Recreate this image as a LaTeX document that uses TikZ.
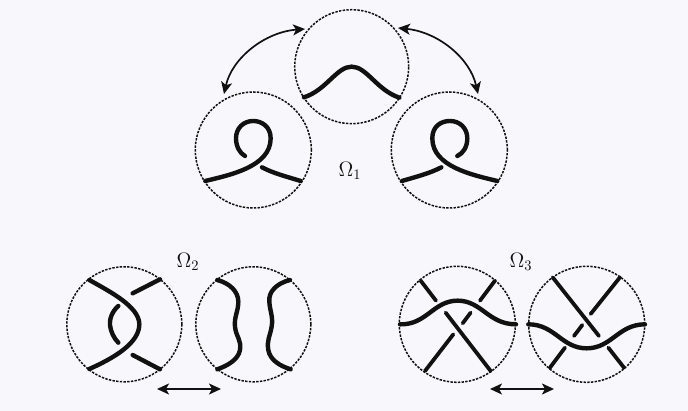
\documentclass[tikz,border=0pt]{standalone}
\usetikzlibrary{arrows.meta}
\definecolor{bgc}{HTML}{F8F8FC}
\definecolor{ink}{HTML}{111111}
\tikzset{
  disc/.style={circle,draw=ink,line width=1.5pt,dash pattern=on 2.4pt off 1.3pt,minimum size=#1,inner sep=0pt,outer sep=0pt},
  strand/.style={draw=ink,line width=4.4pt,line cap=round},
  thinstrand/.style={draw=ink,line width=3.8pt,line cap=round},
  move/.style={draw=ink,line width=1.7pt,{Stealth[length=12pt,width=11pt,inset=3pt]}-{Stealth[length=12pt,width=11pt,inset=3pt]}},
  label/.style={text=ink,font=\Large,scale=1.45,inner sep=0pt},
}
\begin{document}
\begin{tikzpicture}[x=1pt,y=-1pt]
\useasboundingbox (0,0) rectangle (688,411);
\fill[bgc] (0,0) rectangle (688,411);
% discs
\node[disc=114pt] (top) at (351.7,66.7) {};
\node[disc=116pt] (left) at (253.3,150) {};
\node[disc=116pt] (right) at (449.3,150) {};
\node[disc=115pt] (twoa) at (124.3,324.3) {};
\node[disc=115pt] (twob) at (253.3,324.3) {};
\node[disc=116pt] (threea) at (457.3,324.3) {};
\node[disc=116pt] (threeb) at (586.7,324.3) {};
% labels
\node[label] (om1) at (350,171) {$\Omega_1$};
\node[label] (om2) at (188,262) {$\Omega_2$};
\node[label] (om3) at (521,262) {$\Omega_3$};
% arrows
\coordinate (a1) at (305,29);
\coordinate (a2) at (224,94);
\coordinate (b1) at (398,28);
\coordinate (b2) at (478,94);
\draw[move] (a1) .. controls (265,32) and (232,58) .. (a2);
\draw[move] (b1) .. controls (438,32) and (470,58) .. (b2);
\coordinate (c1) at (157,389);
\coordinate (c2) at (221,389);
\coordinate (d1) at (490,389);
\coordinate (d2) at (554,389);
\draw[move] (c1) -- (c2);
\draw[move] (d1) -- (d2);
% Omega 1 strands (zoom coordinates)
\begin{scope}[shift={(190,10)},x=0.3333pt,y=-0.3333pt]
 \draw[strand] (342,262) .. controls (410,240) and (440,170) .. (485,170) .. controls (530,170) and (560,240) .. (628,263);
 \draw[strand] (46,513) .. controls (120,495) and (242,470) .. (242,385) .. controls (242,350) and (215,333) .. (190,333) .. controls (160,333) and (138,355) .. (138,385) .. controls (138,410) and (150,430) .. (165,438);
 \draw[strand] (216,472) .. controls (250,490) and (290,500) .. (332,513);
 \draw[strand] (922,513) .. controls (848,495) and (727,470) .. (727,385) .. controls (727,350) and (752,333) .. (780,333) .. controls (810,333) and (832,355) .. (832,385) .. controls (832,410) and (820,430) .. (802,438);
 \draw[strand] (754,472) .. controls (720,490) and (680,500) .. (636,513);
\end{scope}
% Omega 2 strands
\begin{scope}[shift={(60,240)},x=0.3333pt,y=-0.3333pt]
 \draw[strand] (88,120) .. controls (150,155) and (238,200) .. (238,253) .. controls (238,310) and (160,355) .. (88,387);
 \draw[strand] (218,160) -- (300,118);
 \draw[strand] (218,345) -- (300,388);
 \draw[strand] (175,198) .. controls (155,215) and (148,240) .. (150,255) .. controls (152,275) and (162,295) .. (175,308);
 \draw[strand] (472,120) .. controls (510,130) and (535,155) .. (535,185) .. controls (535,215) and (522,230) .. (525,260) .. controls (528,290) and (545,300) .. (540,330) .. controls (535,360) and (500,378) .. (472,388);
 \draw[strand] (690,120) .. controls (650,130) and (625,155) .. (628,185) .. controls (630,215) and (640,230) .. (635,260) .. controls (630,290) and (620,300) .. (625,330) .. controls (630,360) and (660,378) .. (692,388);
\end{scope}
% Omega 3 strands
\begin{scope}[shift={(390,240)},x=0.3333pt,y=-0.3333pt]
 \draw[strand] (30,253) .. controls (110,255) and (130,182) .. (203,182) .. controls (275,182) and (295,253) .. (378,253);
 \draw[thinstrand] (92,122) -- (138,182);
 \draw[thinstrand] (315,122) -- (270,182);
 \draw[thinstrand] (242,218) -- (218,250);
 \draw[thinstrand] (190,283) -- (105,393);
 \draw[thinstrand] (167,218) -- (302,393);
 \draw[strand] (415,253) .. controls (495,253) and (515,325) .. (590,325) .. controls (665,325) and (685,253) .. (765,253);
 \draw[thinstrand] (488,112) -- (627,288);
 \draw[thinstrand] (690,112) -- (602,222);
 \draw[thinstrand] (577,255) -- (552,288);
 \draw[thinstrand] (525,323) -- (480,383);
 \draw[thinstrand] (655,323) -- (702,383);
\end{scope}
\end{tikzpicture}
\end{document}
